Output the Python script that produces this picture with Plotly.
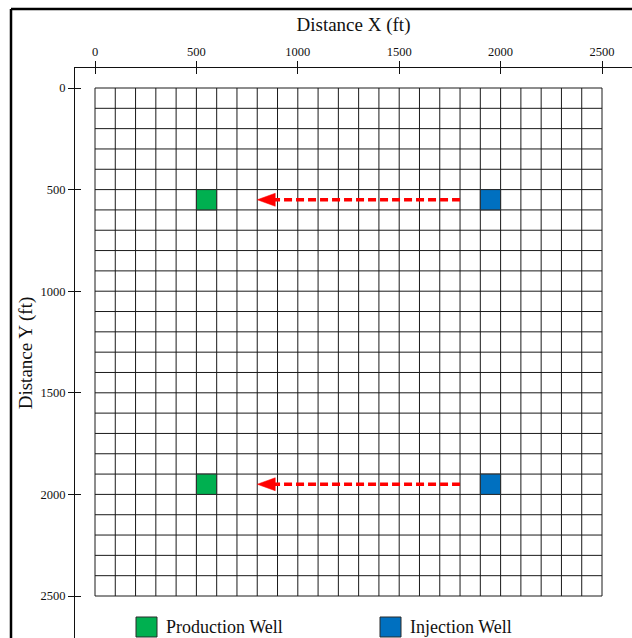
import plotly.graph_objects as go

# Reservoir grid definition (ft)
grid_lines = [i * 100 for i in range(26)]          # cell boundaries, 0..2500
tick_vals = [0, 500, 1000, 1500, 2000, 2500]
tick_text = ["0", "500", "1000", "1500", "2000", "2500"]

# Well cells (lower-left corner in ft) and cell size
prod_x = [500, 500]
prod_y = [500, 1900]
inj_x = [1900, 1900]
inj_y = [500, 1900]
cell = 100

# Flow arrows: injector -> producer
arrow_start_x = [1800, 1800]
arrow_end_x = [800, 800]
arrow_y = [550, 1950]

FONT = "Liberation Serif"
W, H = 632, 638
ML, MT = 75, 68
PW, PH = W - ML, H - MT

# pixel scales used to size the plot ranges (px per ft)
kx = 507 / 2500
ky = 508 / 2500
x_range = [(ML - 95) / kx, (W - 95) / kx]
y_range = [(H - 88) / ky, (MT - 88) / ky]

fig = go.Figure()

# grid lines
gx, gy = [], []
for g in grid_lines:
    gx += [g, g, None]
    gy += [grid_lines[0], grid_lines[-1], None]
    gx += [grid_lines[0], grid_lines[-1], None]
    gy += [g, g, None]
fig.add_trace(go.Scatter(x=gx, y=gy, mode="lines",
                         line=dict(color="#1a1a1a", width=1),
                         hoverinfo="skip", showlegend=False))

# wells
shapes = []
for xs, ys, color in [(prod_x, prod_y, "#00B050"), (inj_x, inj_y, "#0070C0")]:
    for x0, y0 in zip(xs, ys):
        shapes.append(dict(type="rect", xref="x", yref="y",
                           x0=x0, x1=x0 + cell, y0=y0, y1=y0 + cell,
                           fillcolor=color, line=dict(color="#2b2b2b", width=1),
                           layer="above"))

# arrows: dashed shaft + filled head
head_len = 18 / kx
head_half = 6.5 / ky
for xs, xe, y in zip(arrow_start_x, arrow_end_x, arrow_y):
    fig.add_trace(go.Scatter(x=[xs, xe + head_len * 0.8], y=[y, y], mode="lines",
                             line=dict(color="#FF0000", width=3.5, dash="8px,4px"),
                             hoverinfo="skip", showlegend=False))
    fig.add_trace(go.Scatter(x=[xe, xe + head_len, xe + head_len, xe],
                             y=[y, y - head_half, y + head_half, y],
                             mode="lines", fill="toself", fillcolor="#FF0000",
                             line=dict(color="#FF0000", width=0.5),
                             hoverinfo="skip", showlegend=False))

# invisible trace for the overlay axes carrying the inward tick halves
fig.add_trace(go.Scatter(x=[0], y=[0], xaxis="x2", yaxis="y2", mode="markers",
                         marker=dict(opacity=0), hoverinfo="skip", showlegend=False))

# outer frame (left and top)
px = lambda v: (v - ML) / PW
py = lambda v: (H - v) / PH
shapes.append(dict(type="line", xref="paper", yref="paper",
                   x0=px(11), x1=px(W + 5), y0=py(9), y1=py(9),
                   line=dict(color="black", width=2.5)))
shapes.append(dict(type="line", xref="paper", yref="paper",
                   x0=px(11), x1=px(11), y0=py(9), y1=py(H + 5),
                   line=dict(color="black", width=2.5)))

# legend
annotations = []
for x0, color, label in [(136, "#00B050", "Production Well"), (380, "#0070C0", "Injection Well")]:
    shapes.append(dict(type="rect", xref="paper", yref="paper",
                       x0=px(x0), x1=px(x0 + 21), y0=py(637), y1=py(617),
                       fillcolor=color, line=dict(color="#2b2b2b", width=1)))
    annotations.append(dict(xref="paper", yref="paper", x=px(x0 + 28), y=py(627),
                            text=label, showarrow=False, xanchor="left", yanchor="middle",
                            font=dict(family=FONT, size=18, color="#111")))

tick_font = dict(family=FONT, size=12.5, color="#111")
title_font = dict(family=FONT, size=19, color="#111")

fig.update_layout(
    width=W, height=H,
    margin=dict(l=ML, r=0, t=MT, b=0),
    paper_bgcolor="white", plot_bgcolor="white",
    showlegend=False,
    font=dict(family=FONT, color="#111"),
    shapes=shapes,
    annotations=annotations,
    xaxis=dict(showgrid=False, zeroline=False, tickmode="array",
               tickvals=tick_vals, ticktext=tick_text, tickfont=tick_font,
               side="top", range=x_range, showline=True,
               linecolor="#111", linewidth=1, ticks="outside", ticklen=6,
               tickcolor="#111", automargin=False,
               title=dict(text="Distance X (ft)", font=title_font, standoff=8)),
    yaxis=dict(showgrid=False, zeroline=False, tickmode="array",
               tickvals=tick_vals, ticktext=tick_text, tickfont=tick_font,
               range=y_range, showline=True,
               linecolor="#111", linewidth=1, ticks="outside", ticklen=6,
               tickcolor="#111", automargin=False,
               title=dict(text="Distance Y (ft)", font=title_font, standoff=2)),
    xaxis2=dict(overlaying="x", side="top", range=x_range, showgrid=False, zeroline=False,
                tickmode="array", tickvals=tick_vals, ticks="inside", ticklen=6,
                tickcolor="#111", showticklabels=False, anchor="y"),
    yaxis2=dict(overlaying="y", side="left", range=y_range, showgrid=False, zeroline=False,
                tickmode="array", tickvals=tick_vals, ticks="inside", ticklen=6,
                tickcolor="#111", showticklabels=False, anchor="x"),
)

fig.write_html("out.html")
